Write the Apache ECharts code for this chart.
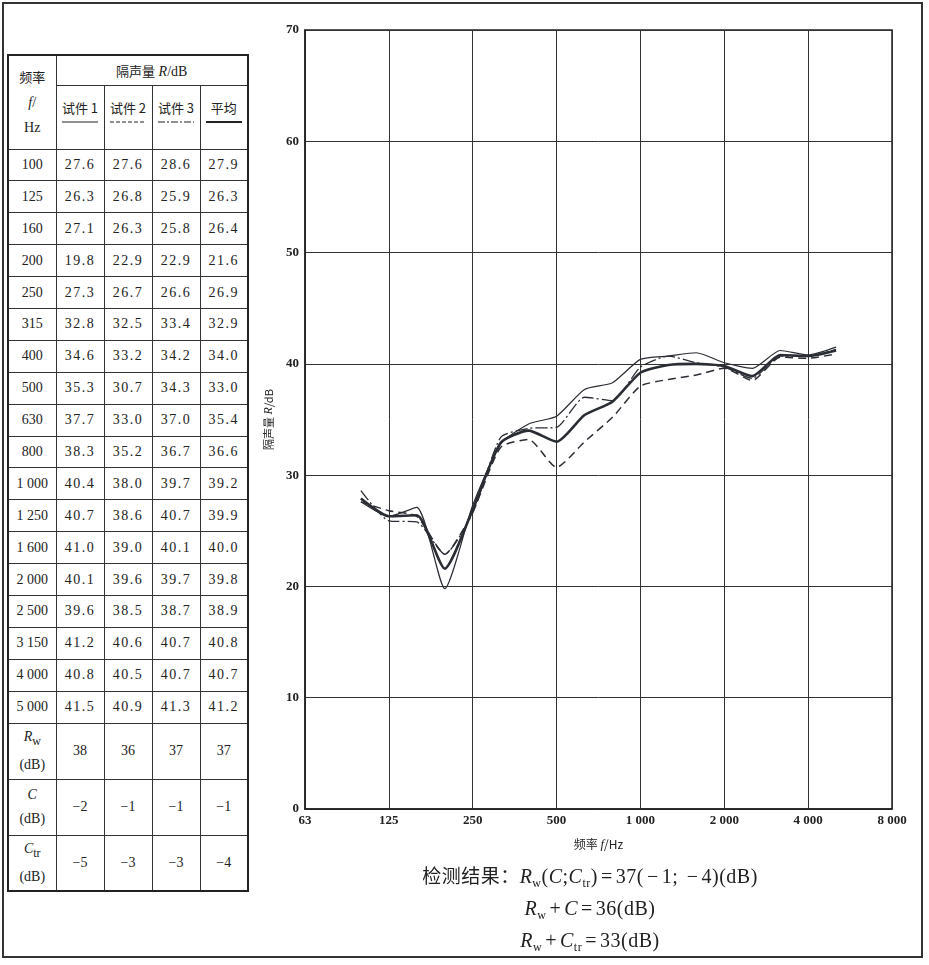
<!DOCTYPE html>
<html><head><meta charset="utf-8">
<script src="https://cdn.jsdelivr.net/npm/echarts@6/dist/echarts.min.js"></script>
<style>
html,body{margin:0;padding:0;background:#fff;}
body{width:929px;height:965px;position:relative;overflow:hidden;font-family:"Liberation Serif","DejaVu Serif","Noto Sans CJK SC",serif;color:#222;}
#frame{position:absolute;left:2px;top:2px;width:921px;height:956px;border:2px solid #333;box-sizing:border-box;}
#tbl{position:absolute;left:7px;top:54px;border-collapse:collapse;border:2px solid #222;table-layout:fixed;}
#tbl td{border:1px solid #333;text-align:center;padding:0;font-size:14px;box-sizing:border-box;}
#tbl td.num{letter-spacing:1.5px;}
#tbl .cjk{font-family:"Noto Sans CJK SC",sans-serif;font-size:13px;}
#chart{position:absolute;left:250px;top:0;width:679px;height:965px;}
.res{position:absolute;left:250px;width:680px;text-align:center;font-size:20px;line-height:24px;font-family:"Liberation Serif","Noto Sans CJK SC",serif;color:#222;letter-spacing:0.5px;}
.res .cjk{font-family:"Noto Sans CJK SC",sans-serif;font-size:19px;}
.res .op{padding:0 3px;}
sub{font-size:12px;vertical-align:-4px;}
</style></head>
<body>
<div id="frame"></div>
<table id="tbl"></table>
<div id="chart"></div>
<div class="res" style="top:863px;"><span class="cjk">检测结果：</span><i>R</i><sub>w</sub>(<i>C</i>;<i>C</i><sub>tr</sub>)<span class="op">=</span>37(<span class="op">−</span>1; <span class="op">−</span>4)(dB)</div>
<div class="res" style="top:896px;"><i>R</i><sub>w</sub><span class="op">+</span><i>C</i><span class="op">=</span>36(dB)</div>
<div class="res" style="top:928px;"><i>R</i><sub>w</sub><span class="op">+</span><i>C</i><sub>tr</sub><span class="op">=</span>33(dB)</div>
<script>
// ---- data ----
const axisBands = ['63','80','100','125','160','200','250','315','400','500','630','800','1 000','1 250','1 600','2 000','2 500','3 150','4 000','5 000','6 300','8 000'];
const freqLabels = ['100','125','160','200','250','315','400','500','630','800','1 000','1 250','1 600','2 000','2 500','3 150','4 000','5 000'];
const specimen1 = [27.6,26.3,27.1,19.8,27.3,32.8,34.6,35.3,37.7,38.3,40.4,40.7,41.0,40.1,39.6,41.2,40.8,41.5];
const specimen2 = [27.6,26.8,26.3,22.9,26.7,32.5,33.2,30.7,33.0,35.2,38.0,38.6,39.0,39.6,38.5,40.6,40.5,40.9];
const specimen3 = [28.6,25.9,25.8,22.9,26.6,33.4,34.2,34.3,37.0,36.7,39.7,40.7,40.1,39.7,38.7,40.7,40.7,41.3];
const average   = [27.9,26.3,26.4,21.6,26.9,32.9,34.0,33.0,35.4,36.6,39.2,39.9,40.0,39.8,38.9,40.8,40.7,41.2];
const rwVals  = [38,36,37,37];
const cVals   = [-2,-1,-1,-1];
const ctrVals = [-5,-3,-3,-4];
const seriesNames = ['试件 1','试件 2','试件 3','平均'];
const yTicks = [0,10,20,30,40,50,60,70];

// ---- table ----
const fmtNum = v => v.toFixed(1);
const fmtInt = v => (v < 0 ? '−' + Math.abs(v) : String(v));
const dashes = ['', '4,2', '7,2,2,2', ''];
const widths = [1.2, 1.2, 1.2, 2];
let html = '<colgroup>' + '<col style="width:48px">'.repeat(5) + '</colgroup>';
html += '<tr style="height:30px"><td rowspan="2" style="line-height:25px;"><span class="cjk">频率</span><br><i>f</i>/<br>Hz</td>' +
        '<td colspan="4"><span class="cjk">隔声量</span> <i>R</i>/dB</td></tr>';
html += '<tr style="height:64px">';
seriesNames.forEach((n, i) => {
  html += '<td style="vertical-align:top;"><div class="cjk" style="margin-top:12px;white-space:nowrap;">' + n + '</div>' +
    '<svg width="36" height="10" style="display:block;margin:0 auto;"><line x1="0" y1="5" x2="36" y2="5" stroke="#222" stroke-width="' + widths[i] + '"' +
    (dashes[i] ? ' stroke-dasharray="' + dashes[i] + '"' : '') + '/></svg></td>';
});
html += '</tr>';
freqLabels.forEach((f, i) => {
  html += '<tr style="height:31.9px"><td>' + f + '</td>' +
    [specimen1, specimen2, specimen3, average].map(a => '<td class="num">' + fmtNum(a[i]) + '</td>').join('') + '</tr>';
});
const extraRows = [['<i>R</i><sub>w</sub>', rwVals], ['<i>C</i>', cVals], ['<i>C</i><sub>tr</sub>', ctrVals]];
extraRows.forEach(([lab, vals]) => {
  html += '<tr style="height:56px"><td style="line-height:24px;">' + lab + '<br>(dB)</td>' +
    vals.map(v => '<td>' + fmtInt(v) + '</td>').join('') + '</tr>';
});
document.getElementById('tbl').innerHTML = html;

// ---- chart ----
const chart = echarts.init(document.getElementById('chart'), null, {renderer: 'canvas'});
const pair = arr => freqLabels.map((f, i) => [f, arr[i]]);
const lineColor = '#2a2d33';
chart.setOption({
  animation: false,
  grid: {left: 55, right: 37, top: 30, bottom: 156, show: true, borderColor: '#222', borderWidth: 1.5},
  xAxis: {
    type: 'category', data: axisBands, boundaryGap: false,
    name: '{a|频率 }{i|f}{a|/Hz}', nameLocation: 'middle', nameGap: 29,
    nameTextStyle: {rich: {a: {fontFamily: 'Noto Sans CJK SC', fontSize: 12, color: '#222'}, i: {fontFamily: 'Liberation Serif', fontStyle: 'italic', fontSize: 13, color: '#222'}}},
    axisLine: {lineStyle: {color: '#222', width: 1.5}},
    axisTick: {show: false},
    axisLabel: {interval: 2, margin: 5, color: '#222', fontSize: 13, fontWeight: 'bold', fontFamily: 'Liberation Serif'},
    splitLine: {show: true, interval: 2, lineStyle: {color: '#333', width: 1}}
  },
  yAxis: {
    type: 'value', min: yTicks[0], max: yTicks[yTicks.length - 1], interval: 10,
    name: '{a|隔声量 }{i|R}{a|/dB}', nameLocation: 'middle', nameGap: 30, nameRotate: 90,
    nameTextStyle: {rich: {a: {fontFamily: 'Noto Sans CJK SC', fontSize: 11, color: '#222'}, i: {fontFamily: 'Liberation Serif', fontStyle: 'italic', fontSize: 12, color: '#222'}}},
    axisLine: {show: true, lineStyle: {color: '#222', width: 1.5}},
    axisTick: {show: false},
    axisLabel: {margin: 6, color: '#222', fontSize: 13, fontWeight: 'bold', fontFamily: 'Liberation Serif'},
    splitLine: {show: true, lineStyle: {color: '#333', width: 1}}
  },
  series: [
    {name: seriesNames[0], type: 'line', data: pair(specimen1), smooth: 0.2, showSymbol: false, lineStyle: {color: lineColor, width: 1.2}},
    {name: seriesNames[1], type: 'line', data: pair(specimen2), smooth: 0.2, showSymbol: false, lineStyle: {color: lineColor, width: 1.5, type: [8, 5]}},
    {name: seriesNames[2], type: 'line', data: pair(specimen3), smooth: 0.2, showSymbol: false, lineStyle: {color: lineColor, width: 1.3, type: [12, 3, 2, 3]}},
    {name: seriesNames[3], type: 'line', data: pair(average), smooth: 0.2, showSymbol: false, lineStyle: {color: lineColor, width: 2.6}}
  ]
});
</script>
</body></html>
